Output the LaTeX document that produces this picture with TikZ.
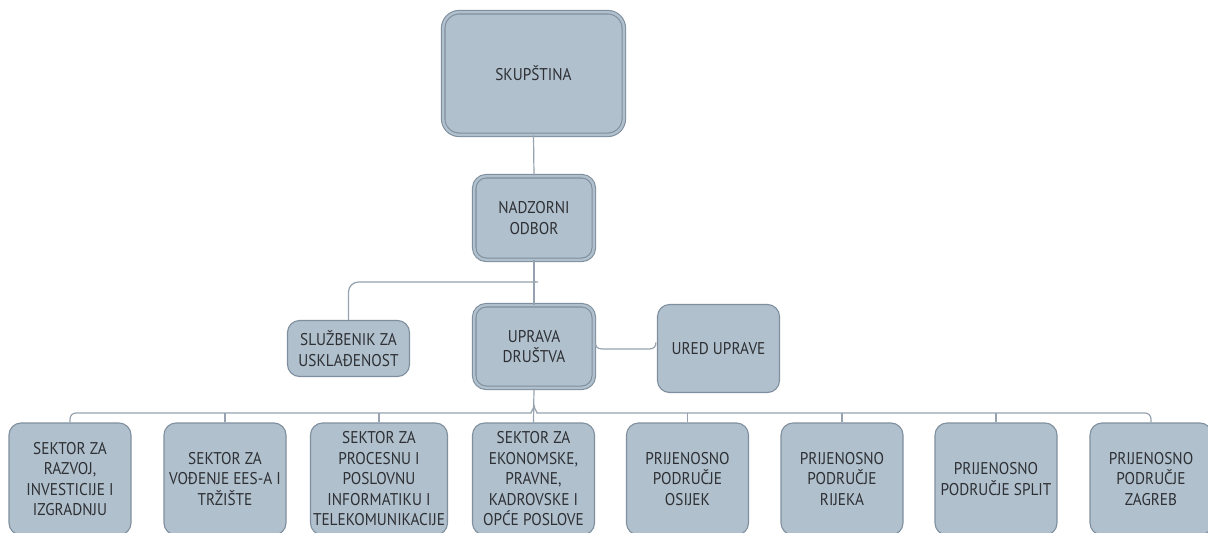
\documentclass[tikz,border=0pt]{standalone}
\usepackage{fontspec}
\setmainfont[FakeStretch=0.9]{PT Sans}
\usetikzlibrary{calc}
\definecolor{boxfill}{RGB}{177,192,205}
\definecolor{boxline}{RGB}{128,143,158}
\definecolor{conline}{RGB}{150,162,175}
\definecolor{txt}{RGB}{45,48,52}
\tikzset{
  orgbox/.style={rectangle, rounded corners=12pt, fill=boxfill, draw=boxline, line width=1.1pt,
    text=txt, align=center, inner sep=1pt,
    font=\fontsize{17}{20.5}\selectfont},
  dblbox/.style={orgbox, draw=boxline, double=boxfill, line width=1.1pt, double distance=2.4pt},
  conn/.style={draw=conline, line width=1.2pt},
}
\begin{document}
\begin{tikzpicture}[x=1pt,y=-1pt]
\clip (0,0) rectangle (1208,533);
\useasboundingbox (0,0) rectangle (1208,533);
\fill[white] (0,0) rectangle (1208,533);
% top boxes
\node[dblbox, rounded corners=16pt, minimum width=180.6pt, minimum height=122.6pt] (skup) at (533.5,73.5) {SKUPŠTINA};
\node[dblbox, minimum width=119.6pt, minimum height=83.6pt] (nadz) at (534,218) {NADZORNI\\ODBOR};
\node[orgbox, minimum width=122pt, minimum height=56pt] (sluz) at (348.5,348.5) {SLUŽBENIK ZA\\USKLAĐENOST};
\node[dblbox, minimum width=119.6pt, minimum height=82.6pt] (uprava) at (534,346.5) {UPRAVA\\DRUŠTVA};
\node[orgbox, minimum width=122pt, minimum height=88pt] (ured) at (718.5,348.5) {URED UPRAVE};
% bottom row
\tikzset{bot/.style={orgbox, minimum height=112pt, minimum width=122pt}}
\node[bot] (b1) at (70,479) {SEKTOR ZA\\RAZVOJ,\\INVESTICIJE I\\IZGRADNJU};
\node[bot] (b2) at (225,479) {SEKTOR ZA\\VOĐENJE EES-A I\\TRŽIŠTE};
\node[bot, minimum width=137pt] (b3) at (379,479) {SEKTOR ZA\\PROCESNU I\\POSLOVNU\\INFORMATIKU I\\TELEKOMUNIKACIJE};
\node[bot] (b4) at (533.5,479) {SEKTOR ZA\\EKONOMSKE,\\PRAVNE,\\KADROVSKE I\\OPĆE POSLOVE};
\node[bot] (b5) at (687.5,479) {PRIJENOSNO\\PODRUČJE\\OSIJEK};
\node[bot] (b6) at (842,479) {PRIJENOSNO\\PODRUČJE\\RIJEKA};
\node[bot] (b7) at (996,479) {PRIJENOSNO\\PODRUČJE SPLIT};
\node[bot] (b8) at (1151,479) {PRIJENOSNO\\PODRUČJE\\ZAGREB};
% connectors
\coordinate (j1) at (534,282);
\coordinate (bus) at (534,413);
\draw[conn] (skup.south) -- (nadz.north);
\draw[conn] (nadz.south) -- (uprava.north);
\draw[conn, rounded corners=10pt] ($(j1)+(0,-5)$) .. controls ($(j1)+(0,-1)$) and ($(j1)+(-2,0)$) .. ($(j1)+(-6,0)$) -| (sluz.north);
\draw[conn] ($(uprava.east)+(1,-4)$) .. controls ($(uprava.east)+(1,0)$) and ($(uprava.east)+(3,2.5)$) .. ($(uprava.east)+(8,2.5)$)
  -- ($(ured.west)+(-8,0.5)$) .. controls ($(ured.west)+(-3,0.5)$) and ($(ured.west)+(-1,-2)$) .. ($(ured.west)+(-1,-6)$);
\draw[conn] (uprava.south) -- (b4.north);
\draw[conn, rounded corners=6pt] (b1.north) |- ($(bus)+(-9,0)$) .. controls ($(bus)+(-4,0)$) and ($(bus)+(0,-4)$) .. ($(bus)+(0,-8)$);
\draw[conn, rounded corners=6pt] (b8.north) |- ($(bus)+(9,0)$) .. controls ($(bus)+(4,0)$) and ($(bus)+(0,-4)$) .. ($(bus)+(0,-8)$);
\foreach \b in {b2,b3,b5,b6,b7}{
  \draw[conn] (\b.north) -- (\b.north |- bus);
}
\end{tikzpicture}
\end{document}
